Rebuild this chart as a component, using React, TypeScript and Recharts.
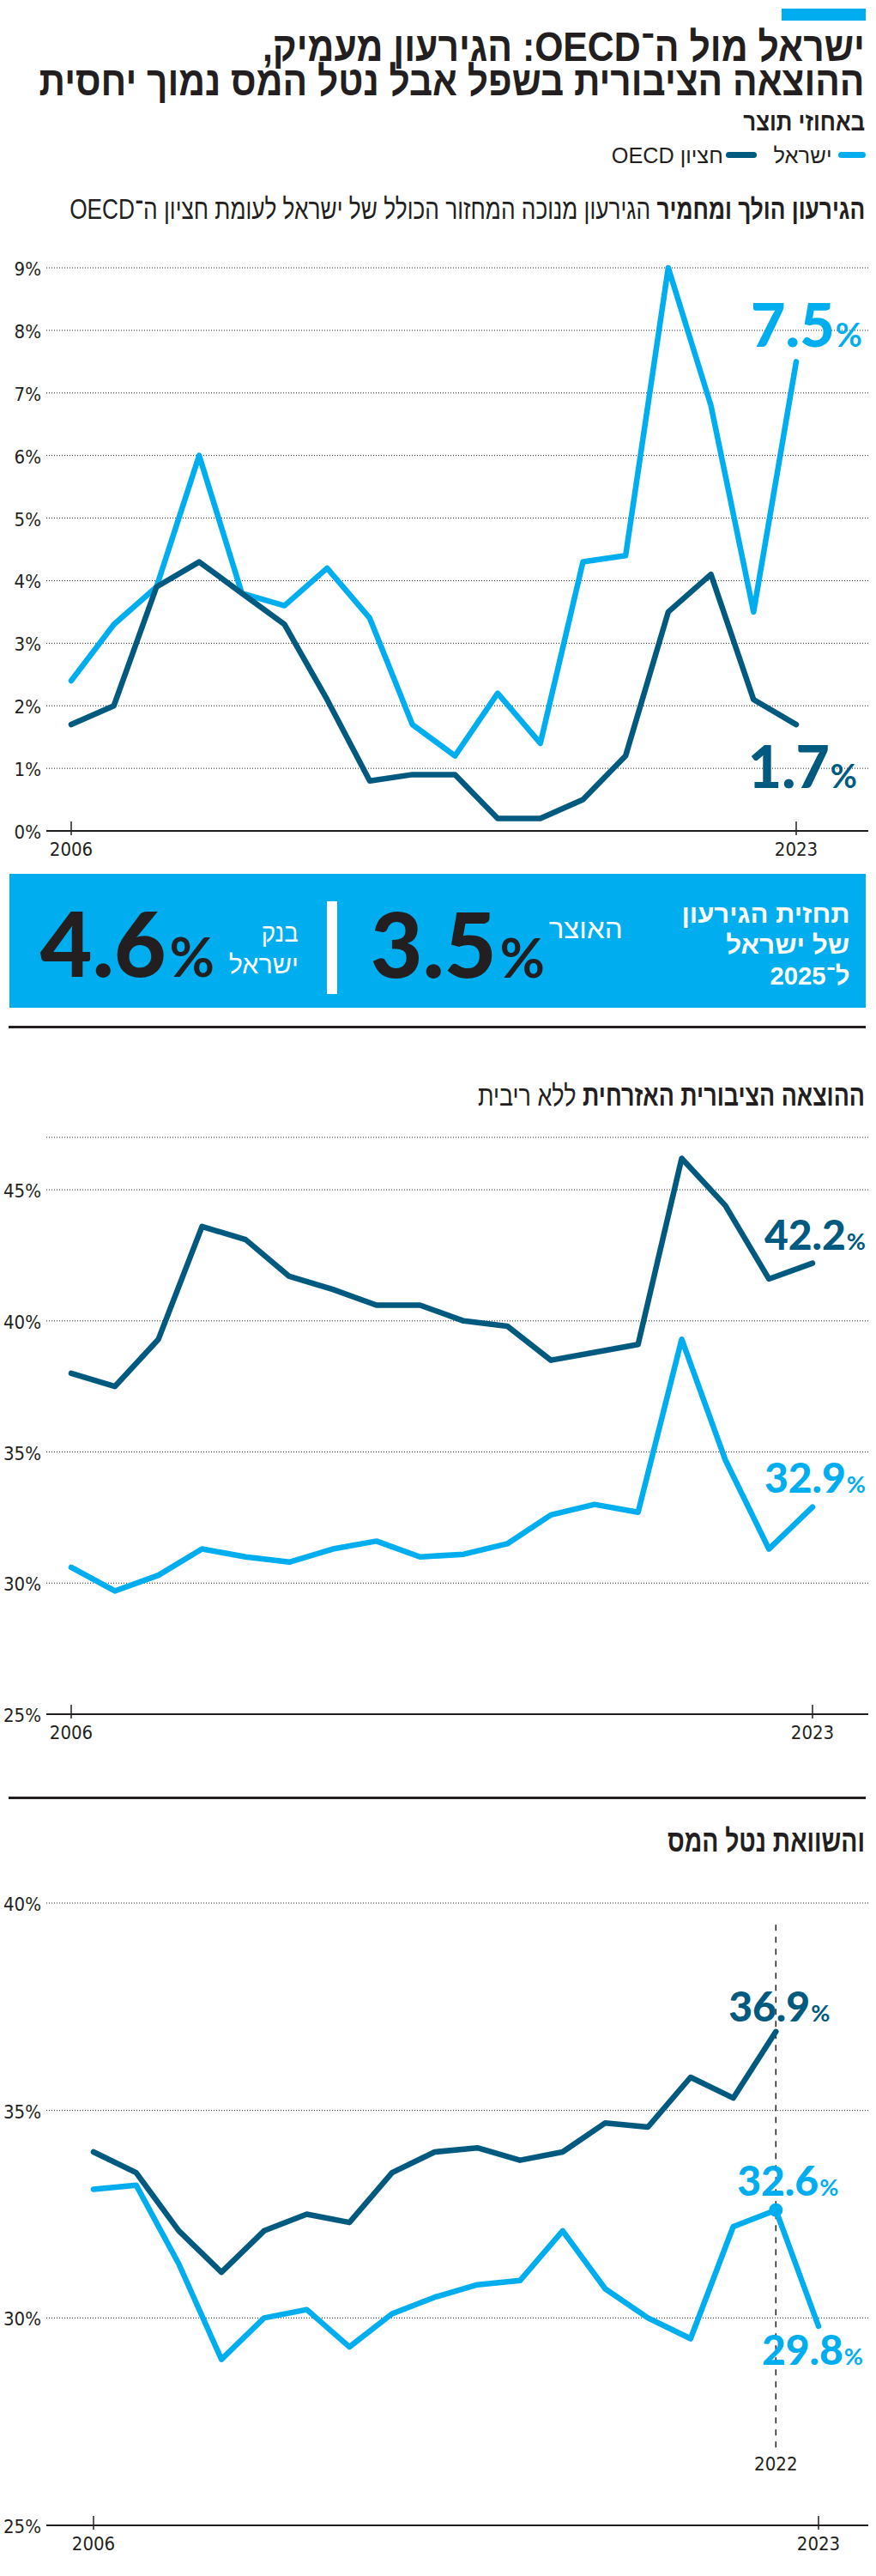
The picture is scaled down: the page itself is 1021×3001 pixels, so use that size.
import { useLayoutEffect, useRef, type ReactNode } from 'react';
import { LineChart, Line, XAxis, YAxis, CartesianGrid, ReferenceLine, LabelList } from 'recharts';

const PAGE_W = 1021;
const PAGE_H = 3001;
const LIGHT = '#00aeef';
const DARK = '#005a80';
const INK = '#231f20';
const HEB = '"Liberation Sans", "DejaVu Sans", Arial, sans-serif';
const NARROW = '"Liberation Sans Narrow", "DejaVu Sans Condensed", "Liberation Sans", sans-serif';
const NUM = 'Lato, "Open Sans", sans-serif';

const years = [2006, 2007, 2008, 2009, 2010, 2011, 2012, 2013, 2014, 2015, 2016, 2017, 2018, 2019, 2020, 2021, 2022, 2023];
const yearTicks = [2006, 2023];

// cyclically adjusted deficit, % of GDP
const deficitIsrael = [2.4, 3.3, 3.9, 6.0, 3.8, 3.6, 4.2, 3.4, 1.7, 1.2, 2.2, 1.4, 4.3, 4.4, 9.0, 6.8, 3.5, 7.5];
const deficitOecd = [1.7, 2.0, 3.9, 4.3, 3.8, 3.3, 2.1, 0.8, 0.9, 0.9, 0.2, 0.2, 0.5, 1.2, 3.5, 4.1, 2.1, 1.7];
const deficitTicks = [0, 1, 2, 3, 4, 5, 6, 7, 8, 9];

// civil public spending excl. interest, % of GDP
const spendingIsrael = [30.6, 29.7, 30.3, 31.3, 31.0, 30.8, 31.3, 31.6, 31.0, 31.1, 31.5, 32.6, 33.0, 32.7, 39.3, 34.7, 31.3, 32.9];
const spendingOecd = [38.0, 37.5, 39.3, 43.6, 43.1, 41.7, 41.2, 40.6, 40.6, 40.0, 39.8, 38.5, 38.8, 39.1, 46.2, 44.4, 41.6, 42.2];
const spendingTicks = [25, 30, 35, 40, 45];

// tax burden, % of GDP
const taxIsrael = [33.1, 33.2, 31.3, 29.0, 30.0, 30.2, 29.3, 30.1, 30.5, 30.8, 30.9, 32.1, 30.7, 30.0, 29.5, 32.2, 32.6, 29.8];
const taxOecd = [34.0, 33.5, 32.1, 31.1, 32.1, 32.5, 32.3, 33.5, 34.0, 34.1, 33.8, 34.0, 34.7, 34.6, 35.8, 35.3, 36.9, null];
const taxTicks = [25, 30, 35, 40];

const titleLines = ['ישראל מול ה־OECD: הגירעון מעמיק,', 'ההוצאה הציבורית בשפל אבל נטל המס נמוך יחסית'];
const titleWidths = [702, 962];

const deficitData = years.map((year, i) => ({ year, israel: deficitIsrael[i], oecd: deficitOecd[i] }));
const spendingData = years.map((year, i) => ({ year, israel: spendingIsrael[i], oecd: spendingOecd[i] }));
const taxData = years.map((year, i) => ({ year, israel: taxIsrael[i], oecd: taxOecd[i] }));

// squeeze a block horizontally so it takes the width it has in the print layout
function useFit(width: number) {
  const ref = useRef<HTMLElement>(null);
  useLayoutEffect(() => {
    const el = ref.current;
    if (!el) return;
    el.style.transform = 'none';
    const w = el.getBoundingClientRect().width;
    if (w > 0) el.style.transform = `scaleX(${width / w})`;
  });
  return ref;
}

function Heb({ right, base, width, size, weight = 400, color = INK, children }: {
  right: number; base: number; width: number; size: number; weight?: number; color?: string; children: ReactNode;
}) {
  const ref = useFit(width);
  const lh = size * 0.8;
  return (
    <div
      ref={ref as any}
      dir="rtl"
      style={{
        position: 'absolute', right: PAGE_W - right, top: base - (lh - 1.117 * size) / 2 - 0.905 * size,
        fontSize: size, lineHeight: `${lh}px`, fontWeight: weight, color,
        fontFamily: HEB, whiteSpace: 'nowrap', transformOrigin: 'right center',
      }}
    >
      {children}
    </div>
  );
}

function FitLine({ width, children }: { width: number; children: ReactNode }) {
  const ref = useFit(width);
  return (
    <span ref={ref as any} style={{ display: 'block', width: 'max-content', marginLeft: 'auto', transformOrigin: 'right center' }}>
      {children}
    </span>
  );
}

function Title() {
  const size = 48;
  const lh = 40;
  return (
    <div
      dir="rtl"
      style={{
        position: 'absolute', right: PAGE_W - 1008, top: 72 - (lh - 1.117 * size) / 2 - 0.905 * size,
        fontSize: size, lineHeight: `${lh}px`, fontWeight: 700, color: INK, fontFamily: HEB, whiteSpace: 'nowrap',
      }}
    >
      {titleLines.map((t, i) => <FitLine key={i} width={titleWidths[i]}>{t}</FitLine>)}
    </div>
  );
}

const PercentTick = ({ x, y, payload }: any) => (
  <text x={x} y={y} dy={9} textAnchor="end" fill={INK} fontSize={22} fontFamily={NARROW}>
    {payload.value}%
  </text>
);

const YearTick = ({ x, y, payload }: any) => (
  <g>
    <line x1={x} x2={x} y1={y - 11} y2={y + 5} stroke={INK} strokeWidth={1.5} />
    <text x={x} y={y + 29} textAnchor="middle" fill={INK} fontSize={22} fontFamily={NARROW}>
      {payload.value}
    </text>
  </g>
);

function endLabel(target: number, dx: number, dy: number, color: string, big: number, small: number) {
  return (props: any) => {
    if (props.index !== target || props.value == null) return null;
    const x = props.x ?? props.viewBox?.x;
    const y = props.y ?? props.viewBox?.y;
    return (
      <text x={x + dx} y={y + dy} textAnchor="end" fill={color} fontFamily={NUM}>
        <tspan fontSize={big} fontWeight={900}>{Number(props.value).toFixed(1)}</tspan>
        <tspan fontSize={small} fontWeight={700} dx={1}>%</tspan>
      </text>
    );
  };
}

const gridProps = { vertical: false, stroke: '#222', strokeDasharray: '1 2' };
const axisLine = { stroke: INK, strokeWidth: 2 };
const LINE_W = 6.5;

export default function App() {
  return (
    <div style={{ position: 'absolute', left: 0, top: 0, width: PAGE_W, height: PAGE_H, overflow: 'hidden', background: '#fff' }}>
      {/* header */}
      <div style={{ position: 'absolute', left: 911, top: 10, width: 98, height: 14, background: LIGHT }} />
      <Title />
      <Heb right={1008} base={152} width={142} size={30} weight={700}>באחוזי תוצר</Heb>

      {/* legend */}
      <div style={{ position: 'absolute', left: 977, top: 177, width: 32, height: 7, borderRadius: 4, background: LIGHT }} />
      <Heb right={970} base={190} width={68} size={25}>ישראל</Heb>
      <div style={{ position: 'absolute', left: 846, top: 177, width: 36, height: 7, borderRadius: 4, background: DARK }} />
      <Heb right={843} base={190} width={130} size={25}>חציון OECD</Heb>

      {/* chart 1: deficit */}
      <Heb right={1008} base={256} width={927} size={33}>
        <span style={{ fontWeight: 700 }}>הגירעון הולך ומחמיר</span> הגירעון מנוכה המחזור הכולל של ישראל לעומת חציון ה־OECD
      </Heb>
      <div style={{ position: 'absolute', left: 0, top: 290 }}>
        <LineChart width={PAGE_W} height={720} data={deficitData} margin={{ top: 22, right: 9, bottom: 2, left: 0 }}>
          <CartesianGrid {...gridProps} />
          <XAxis dataKey="year" type="number" domain={[2006, 2023]} ticks={yearTicks} interval={0}
            tick={YearTick} tickLine={false} tickSize={0} tickMargin={0} axisLine={axisLine}
            padding={{ left: 29, right: 84 }} height={40} />
          <YAxis domain={[0, 9]} ticks={deficitTicks} interval={0} width={54} tick={PercentTick}
            tickLine={false} axisLine={false} tickSize={0} tickMargin={6} />
          <Line dataKey="israel" stroke={LIGHT} strokeWidth={LINE_W} dot={false} activeDot={false}
            strokeLinejoin="round" strokeLinecap="round" isAnimationActive={false}>
            <LabelList dataKey="israel" content={endLabel(17, 77, -17, LIGHT, 70, 38)} />
          </Line>
          <Line dataKey="oecd" stroke={DARK} strokeWidth={LINE_W} dot={false} activeDot={false}
            strokeLinejoin="round" strokeLinecap="round" isAnimationActive={false}>
            <LabelList dataKey="oecd" content={endLabel(17, 71, 74, DARK, 68, 38)} />
          </Line>
        </LineChart>
      </div>

      {/* forecast box */}
      <div style={{ position: 'absolute', left: 11, top: 1018, width: 998, height: 156, background: LIGHT }} />
      <div style={{ position: 'absolute', left: 381, top: 1050, width: 12, height: 108, background: '#fff' }} />
      <Heb right={990} base={1075} width={196} size={30} weight={700} color="#fff">תחזית הגירעון</Heb>
      <Heb right={990} base={1111} width={144} size={30} weight={700} color="#fff">של ישראל</Heb>
      <Heb right={990} base={1147} width={93} size={30} weight={700} color="#fff">ל־2025</Heb>
      <Heb right={726} base={1094} width={86} size={31} color="#fff">האוצר</Heb>
      <Heb right={348} base={1097} width={43} size={30} color="#fff">בנק</Heb>
      <Heb right={348} base={1134} width={81} size={30} color="#fff">ישראל</Heb>
      <svg width={PAGE_W} height={160} style={{ position: 'absolute', left: 0, top: 1018 }}>
        <text x={635} y={121} textAnchor="end" fill={INK} fontFamily={NUM}>
          <tspan fontSize={105} fontWeight={900}>3.5</tspan>
          <tspan fontSize={64} fontWeight={700} dx={4}>%</tspan>
        </text>
        <text x={250} y={120} textAnchor="end" fill={INK} fontFamily={NUM}>
          <tspan fontSize={105} fontWeight={900}>4.6</tspan>
          <tspan fontSize={64} fontWeight={700} dx={4}>%</tspan>
        </text>
      </svg>

      <div style={{ position: 'absolute', left: 10, top: 1195, width: 999, height: 3, background: INK }} />

      {/* chart 2: civil spending */}
      <Heb right={1008} base={1288} width={451} size={34}>
        <span style={{ fontWeight: 700 }}>ההוצאה הציבורית האזרחית</span> ללא ריבית
      </Heb>
      <div style={{ position: 'absolute', left: 0, top: 1300 }}>
        <LineChart width={PAGE_W} height={739} data={spendingData} margin={{ top: 25, right: 9, bottom: 2, left: 0 }}>
          <CartesianGrid {...gridProps} />
          <XAxis dataKey="year" type="number" domain={[2006, 2023]} ticks={yearTicks} interval={0}
            tick={YearTick} tickLine={false} tickSize={0} tickMargin={0} axisLine={axisLine}
            padding={{ left: 29, right: 65 }} height={40} />
          <YAxis domain={[25, 47]} ticks={spendingTicks} interval={0} width={54} tick={PercentTick}
            tickLine={false} axisLine={false} tickSize={0} tickMargin={6} />
          <Line dataKey="israel" stroke={LIGHT} strokeWidth={LINE_W} dot={false} activeDot={false}
            strokeLinejoin="round" strokeLinecap="round" isAnimationActive={false}>
            <LabelList dataKey="israel" content={endLabel(17, 62, -17, LIGHT, 48, 27)} />
          </Line>
          <Line dataKey="oecd" stroke={DARK} strokeWidth={LINE_W} dot={false} activeDot={false}
            strokeLinejoin="round" strokeLinecap="round" isAnimationActive={false}>
            <LabelList dataKey="oecd" content={endLabel(17, 62, -16, DARK, 48, 27)} />
          </Line>
        </LineChart>
      </div>

      <div style={{ position: 'absolute', left: 10, top: 2093, width: 999, height: 3, background: INK }} />

      {/* chart 3: tax burden */}
      <Heb right={1008} base={2158} width={230} size={37} weight={700}>והשוואת נטל המס</Heb>
      <div style={{ position: 'absolute', left: 0, top: 2190 }}>
        <LineChart width={PAGE_W} height={794} data={taxData} margin={{ top: 27, right: 9, bottom: 2, left: 0 }}>
          <CartesianGrid {...gridProps} />
          <XAxis dataKey="year" type="number" domain={[2006, 2023]} ticks={yearTicks} interval={0}
            tick={YearTick} tickLine={false} tickSize={0} tickMargin={0} axisLine={axisLine}
            padding={{ left: 55, right: 58 }} height={40} />
          <YAxis domain={[25, 40]} ticks={taxTicks} interval={0} width={54} tick={PercentTick}
            tickLine={false} axisLine={false} tickSize={0} tickMargin={6} />
          <ReferenceLine
            segment={[{ x: 2022, y: 39.48 }, { x: 2022, y: 26.86 }]}
            stroke={INK} strokeWidth={1.5} strokeDasharray="7 7"
            label={{ value: '2022', position: 'bottom', offset: 10, fill: INK, fontSize: 22, fontFamily: NARROW }}
          />
          <Line dataKey="israel" stroke={LIGHT} strokeWidth={LINE_W} activeDot={false}
            strokeLinejoin="round" strokeLinecap="round" isAnimationActive={false}
            dot={(p: any) => p.payload?.year === 2022
              ? <circle key="dot-2022" cx={p.cx} cy={p.cy} r={8} fill={LIGHT} />
              : <g key={`dot-${p.index}`} />}>
            <LabelList dataKey="israel" content={endLabel(16, 73, -17, LIGHT, 48, 27)} />
            <LabelList dataKey="israel" content={endLabel(17, 52, 45, LIGHT, 48, 27)} />
          </Line>
          <Line dataKey="oecd" stroke={DARK} strokeWidth={LINE_W} dot={false} activeDot={false}
            strokeLinejoin="round" strokeLinecap="round" isAnimationActive={false}>
            <LabelList dataKey="oecd" content={endLabel(16, 63, -12, DARK, 48, 27)} />
          </Line>
        </LineChart>
      </div>
    </div>
  );
}
